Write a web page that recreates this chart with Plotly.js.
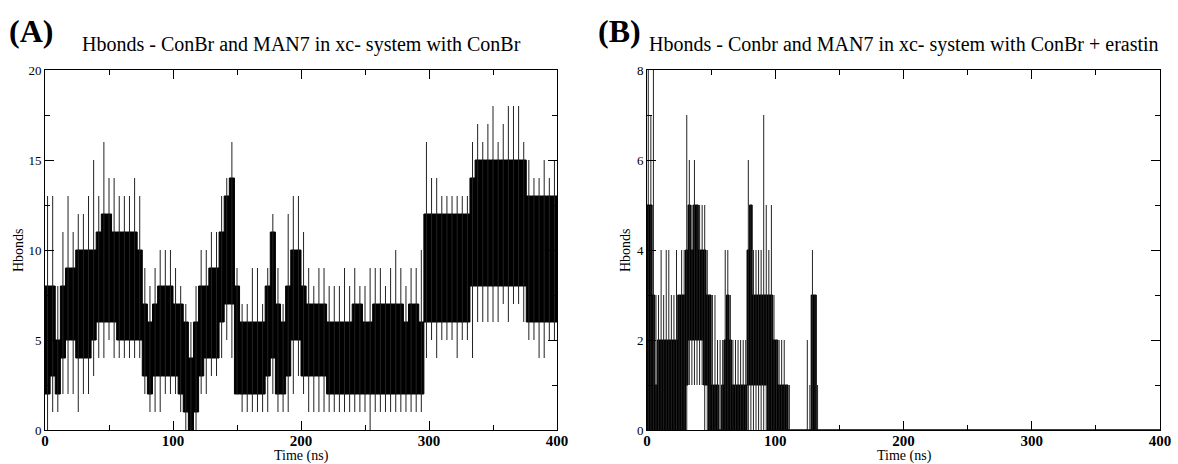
<!DOCTYPE html>
<html><head><meta charset="utf-8">
<script src="https://cdn.plot.ly/plotly-3.0.1.min.js"></script>
<style>html,body{margin:0;padding:0;background:#fff}#chart{width:1178px;height:464px}</style>
</head><body><div id="chart"></div>
<script>
// Panel A: 4-ns bins, integer H-bond counts
const binA = [0,4,8,12,16,20,24,28,32,36,40,44,48,52,56,60,64,68,72,76,80,84,88,92,96,100,104,108,112,116,120,124,128,132,136,140,144,148,152,156,160,164,168,172,176,180,184,188,192,196,200,204,208,212,216,220,224,228,232,236,240,244,248,252,256,260,264,268,272,276,280,284,288,292,296,300,304,308,312,316,320,324,328,332,336,340,344,348,352,356,360,364,368,372,376,380,384,388,392,396];
const loA  = [2,3,2,4,5,5,4,4,4,5,6,6,6,6,5,5,5,5,5,3,2,3,3,3,3,3,2,1,0,1,3,4,4,4,6,7,7,2,2,2,2,2,2,3,4,2,2,3,5,5,3,3,3,3,3,2,2,2,2,2,2,2,2,2,2,2,2,2,2,2,2,2,2,2,6,6,6,6,6,6,6,6,6,8,8,8,8,8,8,8,8,8,8,8,6,6,6,6,6,6];
const hiA  = [8,8,5,8,9,9,10,10,10,10,11,12,12,11,11,11,11,11,10,7,6,7,8,8,8,7,7,6,4,6,8,8,9,9,11,13,14,8,6,6,6,6,6,8,11,7,6,8,10,10,8,7,7,7,7,6,6,6,6,6,7,7,6,6,7,7,7,7,7,7,6,7,7,6,12,12,12,12,12,12,12,12,12,14,15,15,15,15,15,15,15,15,15,15,13,13,13,13,13,13];
const maxA = [13,13,8,11,13,11,12,12,13,15,13,16,14,14,13,13,13,14,13,9,8,9,10,10,10,9,8,7,6,8,10,10,11,11,13,14,16,9,7,7,9,9,7,9,12,9,7,12,13,13,11,9,8,9,9,8,8,8,9,8,9,8,8,9,9,9,8,9,10,9,8,9,9,10,16,14,14,13,13,13,13,13,13,16,17,16,17,18,16,17,18,18,18,16,15,14,14,15,14,15];
const minA = [0,1,1,2,2,2,1,2,2,3,4,4,5,4,4,4,4,4,4,2,1,1,1,2,2,2,1,0,0,0,2,2,3,3,4,5,4,2,1,1,1,1,1,1,2,1,1,1,2,3,2,1,1,1,1,1,1,1,1,1,1,1,1,0,1,1,1,1,1,1,1,1,1,1,4,5,4,5,5,5,4,5,5,4,6,6,6,6,6,7,6,7,7,6,5,5,4,4,5,5];

// Panel B: 2-ns bins (zero after 136 ns)
const binB = [0,2,4,6,8,10,12,14,16,18,20,22,24,26,28,30,32,34,36,38,40,42,44,46,48,50,52,54,56,58,60,62,64,66,68,70,72,74,76,78,80,82,84,86,88,90,92,94,96,98,100,102,104,106,108,110,112,114,116,118,120,122,124,126,128,130,132,134,136];
const loB  = [0,0,0,0,0,0,0,0,0,0,0,0,0,0,0,1,2,2,2,2,2,2,1,1,0,0,0,0,0,0,0,0,0,0,0,0,0,0,0,1,1,1,1,1,1,1,1,0,0,0,0,0,0,0,0,0,0,0,0,0,0,0,0,0,0,0,0,0,0];
const hiB  = [5,5,3,1,2,2,2,2,2,2,2,2,3,3,3,4,5,4,5,5,4,4,4,3,3,1,1,1,0,1,2,3,2,1,1,1,1,1,1,4,5,3,3,3,3,3,3,3,3,2,2,1,1,1,1,0,0,0,0,0,0,0,0,0,3,3,0,0,0];
const maxB = [8,7,8,3,3,4,3,4,4,3,3,4,3,4,4,7,6,5,6,5,5,5,5,4,3,3,3,2,2,2,4,4,3,2,2,2,2,2,2,6,5,4,4,4,4,7,5,4,5,3,2,2,2,2,1,1,0,0,0,0,0,0,2,1,4,3,1,0,0];
const minB = [0,0,0,0,0,0,0,0,0,0,0,0,0,0,0,0,1,1,1,1,1,1,0,0,0,0,0,0,0,0,0,0,0,0,0,0,0,0,0,0,0,0,0,0,0,0,0,0,0,0,0,0,0,0,0,0,0,0,0,0,0,0,0,0,0,0,0,0,0];

const tickXvals = [0,100,200,300,400];
const tickAvals = [0,5,10,15,20];
const tickBvals = [0,2,4,6,8];

const END = 400;
function panel(bins, lo, hi, mx, mn, xa, ya) {
  const x = bins.concat([END]);
  const yl = lo.concat([lo[lo.length-1]]);
  const yh = hi.concat([hi[hi.length-1]]);
  const gx = [], gy = [];
  for (let i = 0; i < bins.length; i++) {
    const w = (i + 1 < bins.length ? bins[i+1] : END) - bins[i];
    if (mx[i] === mn[i]) continue;
    const c = bins[i] + Math.min(w, 4) / 2;
    gx.push(c, c, null); gy.push(mn[i], mx[i], null);
  }
  const common = {type:'scatter', mode:'lines', xaxis:xa, yaxis:ya, hoverinfo:'skip', showlegend:false};
  return [
    Object.assign({x:x, y:yl, line:{shape:'hv', width:1, color:'#000'}}, common),
    Object.assign({x:x, y:yh, line:{shape:'hv', width:1, color:'#000'}, fill:'tonexty', fillcolor:'#000'}, common),
    Object.assign({x:gx, y:gy, line:{width:1, color:'#222'}, connectgaps:false}, common)
  ];
}

const data = [].concat(
  panel(binA, loA, hiA, maxA, minA, 'x', 'y'),
  panel(binB, loB, hiB, maxB, minB, 'x2', 'y2')
);

const serif = "'Liberation Serif', 'Times New Roman', serif";
function xax(domain, anchor) {
  return {domain:domain, anchor:anchor, range:[0,400], tickvals:tickXvals, ticktext:tickXvals.map(String),
    showline:true, mirror:'allticks', linecolor:'#000', linewidth:1, ticks:'inside', ticklen:9, tickwidth:1, tickcolor:'#000',
    minor:{dtick:50, tick0:0, ticks:'inside', ticklen:5, tickcolor:'#000', tickwidth:1, showgrid:false},
    showgrid:false, zeroline:false, fixedrange:true, ticklabelstandoff:-3,
    tickfont:{family:serif, size:15, color:'#000', weight:'bold'}};
}
function yax(domain, anchor, range, vals, minorStep) {
  return {domain:domain, anchor:anchor, range:range, tickvals:vals, ticktext:vals.map(String),
    showline:true, mirror:'allticks', linecolor:'#000', linewidth:1, ticks:'inside', ticklen:9, tickwidth:1, tickcolor:'#000',
    minor:{dtick:minorStep, tick0:0, ticks:'inside', ticklen:5, tickcolor:'#000', tickwidth:1, showgrid:false},
    showgrid:false, zeroline:false, fixedrange:true,
    tickfont:{family:serif, size:13, color:'#000'}};
}

const L = 45, W = 1115, B = 430, H = 360;
const px = v => (v - L) / W, py = v => (B - v) / H;
function ann(text, x, y, size, opts) {
  return Object.assign({text:text, xref:'paper', yref:'paper', x:px(x), y:py(y), xanchor:'center', yanchor:'middle',
    showarrow:false, font:{family:serif, size:size, color:'#000'}}, opts || {});
}

const layout = {
  width:1178, height:464,
  margin:{l:L, r:18, t:70, b:34, pad:0},
  paper_bgcolor:'#fff', plot_bgcolor:'#fff',
  showlegend:false,
  xaxis: xax([0, px(557)], 'y'),
  yaxis: yax([0,1], 'x', [0,20], tickAvals, 2.5),
  xaxis2: xax([px(647), 1], 'y2'),
  yaxis2: yax([0,1], 'x2', [0,8], tickBvals, 1),
  annotations: [
    ann('(A)', 31, 31, 32, {font:{family:serif, size:32, color:'#000', weight:'bold'}}),
    ann('(B)', 619, 31, 32, {font:{family:serif, size:32, color:'#000', weight:'bold'}}),
    ann('Hbonds - ConBr and MAN7 in xc- system with ConBr', 301, 44, 20),
    ann('Hbonds - Conbr and MAN7 in xc- system with ConBr + erastin', 904, 44, 20),
    ann('Time (ns)', 301, 456, 14),
    ann('Time (ns)', 904, 456, 14),
    ann('Hbonds', 18, 250, 14, {textangle:-90}),
    ann('Hbonds', 625, 250, 14, {textangle:-90})
  ]
};

Plotly.newPlot('chart', data, layout, {staticPlot:true, displayModeBar:false});
</script>
</body></html>
